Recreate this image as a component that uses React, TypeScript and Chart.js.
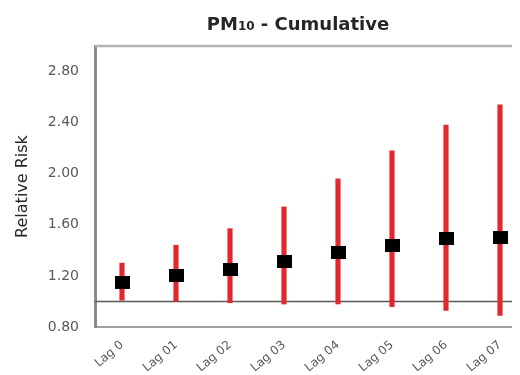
import React, { useEffect, useRef } from "react";
import { Chart, registerables } from "chart.js";

Chart.register(...registerables);

const lagLabels = ["Lag 0", "Lag 01", "Lag 02", "Lag 03", "Lag 04", "Lag 05", "Lag 06", "Lag 07"];
const relativeRisk = [1.15, 1.2, 1.25, 1.31, 1.38, 1.44, 1.49, 1.5];
const lowerCI = [1.01, 1.0, 0.99, 0.98, 0.98, 0.96, 0.93, 0.89];
const upperCI = [1.3, 1.44, 1.57, 1.74, 1.96, 2.18, 2.38, 2.54];
const referenceValue = 1.0;
const yMin = 0.8;
const yMax = 3.0;
const yStep = 0.4;

const titleMain = "PM";
const titleSub = "10";
const titleRest = " - Cumulative";

export default function App() {
  const canvasRef = useRef<HTMLCanvasElement | null>(null);

  useEffect(() => {
    const canvas = canvasRef.current;
    if (!canvas) return;

    const marker = document.createElement("canvas");
    marker.width = 15;
    marker.height = 13;
    const mctx = marker.getContext("2d")!;
    mctx.fillStyle = "#000000";
    mctx.fillRect(0, 0, 15, 13);

    const framePlugin = {
      id: "framePlugin",
      beforeDatasetsDraw(chart: any) {
        const { ctx, chartArea, scales } = chart;
        ctx.save();
        ctx.strokeStyle = "#b4b4b4";
        ctx.lineWidth = 2.5;
        ctx.beginPath();
        ctx.moveTo(chartArea.left, chartArea.top);
        ctx.lineTo(chartArea.right, chartArea.top);
        ctx.stroke();
        const y = scales.y.getPixelForValue(referenceValue);
        ctx.strokeStyle = "#5a5a5a";
        ctx.lineWidth = 1.5;
        ctx.beginPath();
        ctx.moveTo(chartArea.left, y);
        ctx.lineTo(chartArea.right, y);
        ctx.stroke();
        ctx.restore();
      },
      afterDraw(chart: any) {
        const { ctx } = chart;
        ctx.save();
        ctx.fillStyle = "#262626";
        ctx.textBaseline = "alphabetic";
        const bigFont = "bold 18px 'DejaVu Sans'";
        const smallFont = "bold 12px 'DejaVu Sans'";
        ctx.font = bigFont;
        const w1 = ctx.measureText(titleMain).width;
        const w3 = ctx.measureText(titleRest).width;
        ctx.font = smallFont;
        const w2 = ctx.measureText(titleSub).width;
        const total = w1 + w2 + w3;
        let x = 290 - total / 2;
        const yb = 22;
        ctx.font = bigFont;
        ctx.fillText(titleMain, x, yb);
        x += w1;
        ctx.font = smallFont;
        ctx.fillText(titleSub, x, yb);
        x += w2;
        ctx.font = bigFont;
        ctx.fillText(titleRest, x, yb);
        ctx.restore();
      },
    };

    const chart = new Chart(canvas, {
      type: "bar",
      data: {
        labels: lagLabels,
        datasets: [
          {
            type: "line",
            label: "Relative Risk",
            data: relativeRisk,
            showLine: false,
            pointStyle: marker as any,
            pointRadius: 8,
            order: 0,
          } as any,
          {
            type: "bar",
            label: "95% CI",
            data: lowerCI.map((l, i) => [l, upperCI[i]]),
            backgroundColor: "#e2272d",
            barThickness: 4.5,
            borderWidth: 0,
            order: 1,
          },
        ],
      },
      options: {
        responsive: false,
        animation: false,
        layout: { padding: { top: 38, right: 21, left: 0, bottom: 0 } },
        plugins: {
          legend: { display: false },
          tooltip: { enabled: false },
          title: { display: false },
        },
        scales: {
          x: {
            offset: true,
            grid: { display: false, drawTicks: false },
            border: { display: true, color: "#a0a0a0", width: 2 },
            ticks: {
              color: "#595959",
              font: { family: "'DejaVu Sans'", size: 12 },
              minRotation: 40,
              maxRotation: 40,
              padding: 11,
              autoSkip: false,
            },
            afterFit: (scale: any) => {
              scale.height = 48;
            },
          },
          y: {
            min: yMin,
            max: yMax,
            grid: { display: false, drawTicks: false },
            border: { display: true, color: "#8c8c8c", width: 3 },
            ticks: {
              stepSize: yStep,
              includeBounds: false,
              color: "#595959",
              font: { family: "'DejaVu Sans'", size: 14 },
              padding: 16,
              callback: (v: any) => Number(v).toFixed(2),
            },
            title: {
              display: true,
              text: "Relative Risk",
              color: "#262626",
              font: { family: "'DejaVu Sans'", size: 16 },
              padding: { top: 5, bottom: 0 },
            },
            afterFit: (scale: any) => {
              scale.width = 87;
            },
          },
        },
      },
      plugins: [framePlugin],
    });

    return () => chart.destroy();
  }, []);

  return (
    <div style={{ width: 512, height: 367, overflow: "hidden" }}>
      <canvas ref={canvasRef} width={540} height={367} />
    </div>
  );
}
